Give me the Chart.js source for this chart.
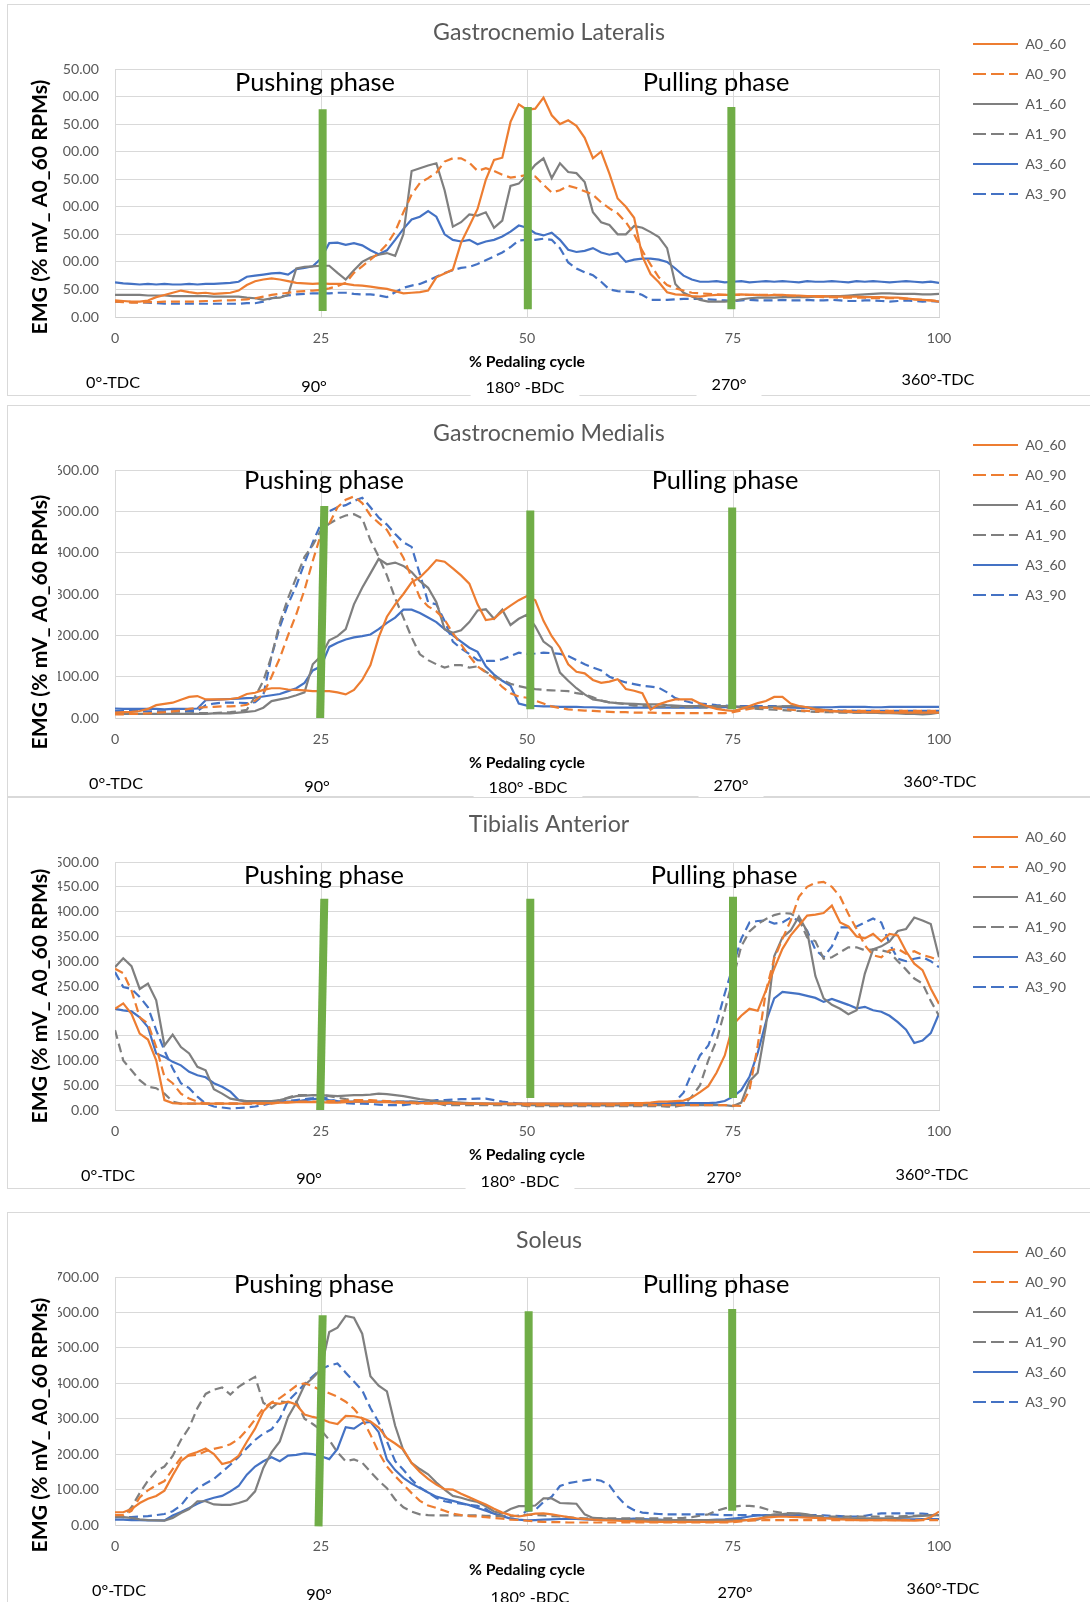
<!DOCTYPE html>
<html><head><meta charset="utf-8">
<script src="https://cdn.jsdelivr.net/npm/chart.js@4.4.1/dist/chart.umd.min.js"></script>
<style>
html,body{margin:0;padding:0;background:#fff;overflow:hidden;width:1090px;height:1602px;}
#wrap{position:relative;width:1090px;height:1602px;overflow:hidden;background:#fff;}
canvas{position:absolute;left:0;}
</style></head><body><div id="wrap">
<canvas id="c0"></canvas><canvas id="c1"></canvas><canvas id="c2"></canvas><canvas id="c3"></canvas>
</div>
<script>
// ---------------- DATA ----------------
const pct = [0,1,2,3,4,5,6,7,8,9,10,11,12,13,14,15,16,17,18,19,20,21,22,23,24,25,26,27,28,29,30,31,32,33,34,35,36,37,38,39,40,41,42,43,44,45,46,47,48,49,50,51,52,53,54,55,56,57,58,59,60,61,62,63,64,65,66,67,68,69,70,71,72,73,74,75,76,77,78,79,80,81,82,83,84,85,86,87,88,89,90,91,92,93,94,95,96,97,98,99,100];
const seriesLabels = ['A0_60','A0_90','A1_60','A1_90','A3_60','A3_90'];
const panelTitles = ['Gastrocnemio Lateralis','Gastrocnemio Medialis','Tibialis Anterior','Soleus'];
const xTicks = [0,25,50,75,100];
const glTicks = [0,50,100,150,200,250,300,350,400,450];
const gmTicks = [0,100,200,300,400,500,600];
const taTicks = [0,50,100,150,200,250,300,350,400,450,500];
const soTicks = [0,100,200,300,400,500,600,700];
const phaseTexts = ['Pushing phase','Pulling phase'];
const angleTexts = ['0°-TDC','90°','180° -BDC','270°','360°-TDC'];
const xTitle = '% Pedaling cycle';
const yTitle = 'EMG (% mV_ A0_60 RPMs)';

// Gastrocnemio Lateralis
const gl_A0_60 = [30,29,28,28,30,36,40,44,48,45, 43,44,42,43,44,48,58,65,68,70, 68,65,62,61,60,61,60,60,60,58, 57,55,53,51,47,43,44,45,48,72, 79,86,135,165,196,249,285,289,354,386, 376,378,398,366,350,357,347,325,288,300, 260,215,200,180,110,78,63,45,41,40, 38,37,39,40,40,40,41,40,40,39, 40,40,39,39,38,38,38,37,37,37, 37,36,36,36,35,35,34,32,31,30, 28];
const gl_A0_90 = [28,27,26,26,27,27,28,28,28,28, 28,29,29,30,30,31,32,34,37,40, 42,44,46,47,48,49,52,56,62,80, 92,104,116,132,155,190,222,243,252,262, 282,288,288,280,265,270,265,258,253,255, 258,255,240,226,230,238,234,228,222,208, 197,188,172,150,120,95,72,58,52,48, 44,43,42,41,40,40,40,40,40,40, 40,39,39,38,38,37,36,36,35,35, 35,35,34,34,34,34,33,32,31,30, 29];
const gl_A1_60 = [40,40,40,40,39,39,39,38,38,38, 38,38,37,37,37,37,35,34,31,34, 35,40,88,91,92,93,93,80,68,85, 100,108,113,116,111,150,265,270,275,279, 230,164,172,186,184,190,162,175,238,242, 258,276,288,252,279,263,261,245,190,172, 167,150,150,165,162,154,145,125,60,44, 37,31,28,28,28,29,32,34,35,35, 35,36,36,36,36,37,37,38,38,39, 40,41,42,43,43,42,42,42,41,41, 42];
const gl_A1_90 = [];
const gl_A3_60 = [63,61,60,59,60,59,60,59,59,60, 59,60,60,61,62,64,73,75,77,79, 80,77,87,89,92,106,134,135,131,134, 130,121,114,121,140,160,177,182,192,182, 150,140,137,140,132,137,140,146,155,166, 162,152,148,153,140,122,118,120,125,117, 113,116,100,104,106,106,104,100,88,75, 68,64,64,65,63,64,65,63,64,65, 64,65,64,63,65,64,64,65,64,63, 65,64,65,64,63,64,65,64,63,64, 62];
const gl_A3_90 = [28,28,27,27,26,25,24,24,24,24, 24,24,24,24,24,24,25,25,28,34, 37,39,41,42,43,43,43,44,44,42, 41,41,39,36,45,53,57,60,66,73, 80,85,89,91,96,103,110,117,127,139, 140,140,142,140,125,99,88,81,76,64, 50,47,46,45,40,31,31,31,32,33, 33,33,32,31,30,29,30,31,30,30, 30,31,30,30,31,30,30,31,30,29, 29,30,30,29,28,29,30,29,28,29, 28];

// Gastrocnemio Medialis
const gm_A0_60 = [13,14,15,17,22,31,34,37,44,51, 53,45,45,45,46,49,58,61,68,72, 72,69,68,67,65,65,65,62,57,68, 92,128,195,245,275,300,328,340,360,382, 378,362,345,325,275,237,240,258,272,285, 295,285,235,198,170,130,112,108,92,85, 88,94,70,66,60,20,33,40,45,45, 45,35,28,22,19,17,22,29,36,41, 51,51,35,29,26,21,19,17,16,15, 15,14,14,14,13,13,13,13,13,13, 13];
const gm_A0_90 = [9,9,10,10,11,13,14,16,18,22, 25,26,27,28,28,29,32,42,58,100, 145,200,251,310,380,445,470,510,528,536, 520,490,472,455,422,388,340,291,270,258, 238,205,178,150,125,110,96,75,60,52, 49,42,35,28,24,21,19,18,17,16, 15,14,14,13,13,13,12,12,12,12, 12,12,12,12,12,14,18,22,25,25, 24,22,20,18,17,16,16,16,17,17, 17,17,17,17,17,17,17,17,17,17, 17];
const gm_A1_60 = [10,10,10,10,10,10,10,10,10,10, 10,10,11,11,11,13,15,17,25,41, 45,49,55,62,130,150,188,198,215,275, 315,350,385,372,376,368,353,331,315,280, 215,206,212,232,260,263,240,262,225,240, 250,222,185,170,110,90,72,57,45,42, 38,36,35,34,33,33,33,31,30,29, 29,29,29,29,29,28,27,26,25,26, 27,28,29,28,26,23,20,17,15,14, 13,13,13,12,12,11,10,10,9,10, 13];
const gm_A1_90 = [10,10,10,10,10,11,11,11,11,11, 12,12,12,13,14,16,20,52,90,150, 230,290,340,390,418,455,470,482,490,493, 483,430,390,345,290,243,195,154,140,130, 122,128,128,122,125,112,100,92,83,77, 73,70,68,67,66,65,60,57,50,42, 38,36,33,30,29,28,27,27,26,26, 26,26,25,25,25,24,24,23,22,21, 20,19,18,17,16,15,14,14,13,13, 13,13,13,13,13,13,13,13,13,13, 13];
const gm_A3_60 = [23,22,22,22,22,22,21,22,22,22, 23,43,44,45,46,47,48,49,52,55, 58,65,72,85,115,125,172,182,190,195, 198,202,215,230,243,262,262,254,243,232, 215,200,185,170,160,125,105,90,78,35, 30,29,28,28,27,27,27,26,26,25, 25,25,25,25,25,25,25,25,25,25, 25,25,26,26,26,27,27,27,26,26, 26,26,25,25,25,26,26,26,27,27, 27,27,26,26,27,27,27,27,27,27, 27];
const gm_A3_90 = [17,17,17,17,16,16,16,16,17,17, 17,31,35,37,37,37,36,38,55,150, 220,275,320,375,425,470,500,510,515,525, 533,510,485,468,445,425,414,348,280,275, 235,185,168,155,140,138,138,142,150,158, 155,156,158,157,155,150,140,130,122,115, 100,92,86,82,78,76,73,62,48,42, 37,35,33,31,30,29,29,29,29,29, 29,28,27,25,23,21,20,19,18,18, 17,17,17,17,17,17,17,17,17,17, 17];

// Tibialis Anterior
const ta_A0_60 = [204,215,194,154,142,100,20,14,13,13, 13,13,13,13,13,13,13,14,14,14, 15,15,16,16,16,16,15,15,16,17, 17,17,16,16,15,15,15,14,14,14, 14,14,13,13,13,13,13,13,13,13, 13,13,13,13,13,13,13,13,13,13, 13,13,14,14,14,15,17,17,18,19, 25,36,48,75,110,172,190,204,200,241, 285,325,352,372,392,394,397,412,378,370, 350,346,355,340,355,352,320,295,282,245, 214];
const ta_A0_90 = [285,276,241,187,174,127,67,54,33,23, 17,13,13,13,13,13,13,13,13,13, 15,16,17,17,17,17,18,18,19,20, 20,20,19,18,17,15,14,13,13,13, 13,13,13,13,13,12,12,12,12,12, 10,10,10,10,10,10,10,10,10,10, 10,10,10,10,10,10,10,10,10,10, 10,10,10,10,10,9,8,40,130,240, 305,345,382,430,450,458,460,450,430,395, 365,332,312,308,322,325,315,320,312,308, 301];
const ta_A1_60 = [288,306,290,244,255,221,130,152,127,114, 87,80,42,33,23,20,18,18,18,18, 20,24,28,29,30,30,29,28,29,30, 30,31,33,32,30,28,25,22,20,18, 17,16,15,14,13,13,12,12,12,12, 10,10,10,10,10,10,10,10,10,10, 10,10,10,10,10,10,10,10,10,10, 10,10,10,10,10,8,15,58,75,170, 310,348,362,390,360,270,225,212,204,193, 201,275,324,330,340,361,365,388,382,375, 308];
const ta_A1_90 = [161,100,80,60,47,44,33,17,13,13, 13,13,13,13,13,13,13,13,13,14, 20,25,30,30,30,30,28,25,22,20, 17,17,17,17,17,17,17,16,15,14, 10,10,10,10,10,10,10,10,10,10, 8,8,8,8,8,8,8,8,8,8, 8,8,8,8,8,8,8,7,7,10, 27,50,100,140,200,265,330,360,375,385, 393,397,396,385,348,340,305,308,318,328, 328,322,324,322,318,300,283,265,255,220, 190];
const ta_A3_60 = [204,201,199,187,167,114,107,97,90,77, 70,66,54,47,37,20,17,17,17,17, 17,17,17,20,22,23,20,18,17,17, 17,17,17,17,17,17,17,16,15,14, 13,13,13,13,13,13,13,13,13,13, 13,13,13,13,13,13,13,13,13,13, 13,13,13,13,13,13,13,13,14,14, 14,14,14,15,18,27,40,67,115,178, 225,238,236,234,230,226,218,224,218,212, 205,208,201,198,190,177,162,135,140,155, 194];
const ta_A3_90 = [278,248,244,228,207,161,120,84,54,44, 27,13,7,5,3,4,5,7,10,14, 17,18,20,22,24,27,22,17,14,13, 13,12,11,10,10,10,12,14,17,20, 20,21,22,22,23,23,20,17,15,13, 13,12,11,10,10,10,10,10,10,10, 10,10,10,10,10,10,11,13,17,35, 75,110,130,174,235,290,345,378,381,382, 376,378,388,382,361,323,308,330,368,368, 370,378,386,378,335,305,300,305,308,300, 288];

// Soleus
const so_A0_60 = [36,36,45,62,74,82,97,140,180,198, 206,216,200,172,178,195,235,272,321,345, 342,348,340,312,305,300,290,285,308,307, 302,292,275,245,230,213,175,150,130,114, 101,100,88,78,68,58,46,35,28,24, 28,32,33,30,26,22,19,17,15,14, 13,12,11,10,10,9,9,9,9,9, 9,9,9,9,9,10,12,15,18,21, 23,24,23,22,21,20,19,18,16,15, 14,14,14,14,14,13,13,12,14,22, 38];
const so_A0_90 = [28,28,40,78,98,112,124,158,190,196, 198,208,215,220,228,243,268,298,330,346, 358,375,393,400,392,380,372,362,348,328, 300,255,205,165,138,114,90,68,55,48, 40,32,28,25,24,22,20,18,15,14, 12,10,9,8,8,7,7,7,7,7, 7,7,7,7,7,7,7,7,7,7, 7,7,7,7,7,8,10,12,13,14, 14,14,14,14,14,14,14,14,14,14, 14,14,14,14,14,14,14,14,14,14, 14];
const so_A1_60 = [24,22,20,16,14,13,12,20,34,45, 67,67,58,57,57,62,70,95,161,205, 236,305,345,395,415,440,545,557,590,585, 540,420,393,377,280,210,175,158,143,120, 100,82,77,70,65,53,38,32,45,53, 53,55,75,75,62,61,60,30,20,19, 17,16,15,14,14,14,14,14,14,14, 14,14,14,14,14,14,14,14,15,25, 30,31,33,33,30,25,20,19,19,19, 19,19,19,19,19,20,22,24,26,27, 28];
const so_A1_90 = [22,24,50,90,125,153,165,195,240,275, 330,370,382,388,368,390,405,418,345,330, 349,346,348,300,285,268,240,205,180,185, 176,150,125,104,72,50,38,30,28,27, 27,27,27,27,27,26,26,25,24,27, 29,28,27,25,24,22,20,19,19,19, 19,19,19,19,19,19,19,19,19,20, 22,26,30,40,47,52,54,54,52,45, 38,34,33,30,28,26,25,24,24,24, 24,24,24,24,24,24,25,26,27,28, 28];
const so_A3_60 = [15,15,14,14,13,13,13,27,37,48, 60,70,77,82,95,110,142,165,180,191, 180,196,198,202,200,194,186,215,276,272, 288,291,262,185,155,133,117,104,92,80, 74,68,62,56,48,40,32,25,18,15, 13,14,15,16,17,18,17,16,15,14, 15,16,17,18,17,16,15,14,14,14, 14,14,14,15,16,18,20,24,27,28, 28,28,27,26,24,22,20,19,18,17, 17,17,16,16,16,16,16,16,17,17, 17];
const so_A3_90 = [22,22,22,24,25,28,31,39,55,85, 104,117,130,150,170,192,217,240,258,270, 300,350,373,398,420,440,450,456,430,405, 380,330,290,236,180,156,128,106,92,76, 67,63,60,57,54,45,30,26,24,26, 40,42,65,80,110,118,122,126,129,125, 112,80,55,42,35,33,31,30,30,30, 30,30,30,29,28,28,28,28,28,28, 28,28,28,28,28,28,27,26,25,24, 24,26,30,33,33,33,33,33,32,30, 28];

// Green phase markers: [x at top, x at bottom, value at top, value at bottom]
const glMarks = [[25.2,25.2,377,11],[50.1,50.1,381,14],[74.8,74.8,381,14]];
const gmMarks = [[25.4,24.9,513,0],[50.4,50.4,502,21],[74.9,74.9,509,21]];
const taMarks = [[25.4,24.9,426,0],[50.4,50.4,426,24],[75.0,75.0,430,24]];
const soMarks = [[25.2,24.7,592,-4],[50.2,50.2,603,38],[74.9,74.9,610,40]];

// ---------------- STYLE / LAYOUT ----------------
const FONT = 'Lato, "Open Sans", "DejaVu Sans", sans-serif';
const seriesStyle = [
  {color:'#ED7D31', dash:[]}, {color:'#ED7D31', dash:[9,5]},
  {color:'#7F7F7F', dash:[]}, {color:'#7F7F7F', dash:[9,5]},
  {color:'#4472C4', dash:[]}, {color:'#4472C4', dash:[9,5]}
];
const panelLayout = [
  {top:4,    titleY:29, phaseY:79, phaseX:[315,716], yTitleY:203, clipX:63,
   angles:[[113,379,1],[314,383,0],[525,384,1],[729,381,1],[938,376,1]]},
  {top:405,  titleY:29, phaseY:76, phaseX:[324,725], yTitleY:217, clipX:58,
   angles:[[116,379,1],[317,382,0],[528,383,1],[731,381,1],[940,377,1]]},
  {top:797,  titleY:28, phaseY:79, phaseX:[324,724], yTitleY:199, clipX:58,
   angles:[[108,379,1],[309,382,0],[520,385,1],[724,381,0],[932,378,1]]},
  {top:1212, titleY:29, phaseY:73, phaseX:[314,716], yTitleY:213, clipX:58,
   angles:[[119,379,1],[319,383,0],[530,386,1],[735,381,1],[943,377,1]]}
];
const CANVAS_H = 392;

const mctx = document.createElement('canvas').getContext('2d');
function fit(text, target, weight) {
  mctx.font = (weight || 'normal') + ' 100px ' + FONT;
  return 100 * target / mctx.measureText(text).width;
}
const titleSize = fit('Gastrocnemio Lateralis', 232);
const phaseSize = fit('Pushing phase', 160);
const tickSize = fit('0.00', 28);
const legendSize = fit('A0_60', 41);
const xTitleSize = fit('% Pedaling cycle', 116, 'bold');
const yTitleSize = fit('EMG (% mV_ A0_60 RPMs)', 255, 'bold');
const angleSize = fit('0°-TDC', 54);
const legendPad = 30 - legendSize;

Chart.defaults.font.family = FONT;
Chart.defaults.color = '#595959';

const panelSeries = [
  [gl_A0_60, gl_A0_90, gl_A1_60, gl_A1_90, gl_A3_60, gl_A3_90],
  [gm_A0_60, gm_A0_90, gm_A1_60, gm_A1_90, gm_A3_60, gm_A3_90],
  [ta_A0_60, ta_A0_90, ta_A1_60, ta_A1_90, ta_A3_60, ta_A3_90],
  [so_A0_60, so_A0_90, so_A1_60, so_A1_90, so_A3_60, so_A3_90]
];
const panelTicks = [glTicks, gmTicks, taTicks, soTicks];
const panelMarks = [glMarks, gmMarks, taMarks, soMarks];

function decorPlugin(p) {
  const L = panelLayout[p];
  return {
    id: 'decor' + p,
    beforeDraw(chart) {
      const ctx = chart.ctx;
      ctx.save();
      ctx.fillStyle = '#fff';
      ctx.fillRect(0, 0, chart.width, chart.height);
      ctx.strokeStyle = '#D9D9D9'; ctx.lineWidth = 1;
      ctx.strokeRect(7.5, 0.5, 1200, CANVAS_H - 1);
      ctx.restore();
    },
    afterLayout(chart) {
      const lg = chart.legend;
      if (!lg) return;
      lg.left = 973 - legendPad; lg.right = 1090;
      lg.top = 40 - legendSize / 2 - legendPad; lg.bottom = CANVAS_H;
      lg.width = lg.right - lg.left; lg.height = lg.bottom - lg.top;
    },
    afterDraw(chart) {
      const ctx = chart.ctx, xs = chart.scales.x, ys = chart.scales.y, area = chart.chartArea;
      ctx.save();
      // green phase markers
      ctx.strokeStyle = '#70AD47'; ctx.lineWidth = 8; ctx.lineCap = 'butt'; ctx.setLineDash([]);
      panelMarks[p].forEach(m => {
        ctx.beginPath();
        ctx.moveTo(xs.getPixelForValue(m[0]), ys.getPixelForValue(m[2]));
        ctx.lineTo(xs.getPixelForValue(m[1]), ys.getPixelForValue(m[3]));
        ctx.stroke();
      });
      // axis title box (covers part of the tick labels like the original)
      ctx.fillStyle = '#fff';
      ctx.fillRect(9, area.top - 14, L.clipX - 9, area.bottom - area.top + 26);
      ctx.save();
      ctx.translate(40, L.yTitleY); ctx.rotate(-Math.PI / 2);
      ctx.font = 'bold ' + yTitleSize + 'px ' + FONT;
      ctx.fillStyle = '#000'; ctx.textAlign = 'center'; ctx.textBaseline = 'middle';
      ctx.fillText(yTitle, 0, 0);
      ctx.restore();
      // chart title
      ctx.font = titleSize + 'px ' + FONT;
      ctx.fillStyle = '#595959'; ctx.textAlign = 'center'; ctx.textBaseline = 'middle';
      ctx.fillText(panelTitles[p], 549, L.titleY);
      // phase labels
      ctx.font = phaseSize + 'px ' + FONT; ctx.fillStyle = '#000';
      phaseTexts.forEach((t, i) => ctx.fillText(t, L.phaseX[i], L.phaseY));
      // crank angle labels
      ctx.font = angleSize + 'px ' + FONT;
      angleTexts.forEach((t, i) => {
        const a = L.angles[i];
        const w = ctx.measureText(t).width;
        if (a[2]) { ctx.fillStyle = '#fff'; ctx.fillRect(a[0] - w / 2 - 15, a[1] - 12, w + 30, 24); }
        ctx.fillStyle = '#000';
        ctx.fillText(t, a[0], a[1]);
      });
      ctx.restore();
    }
  };
}

panelLayout.forEach((L, p) => {
  const cv = document.getElementById('c' + p);
  cv.width = 1090; cv.height = CANVAS_H;
  cv.style.width = '1090px'; cv.style.height = CANVAS_H + 'px'; cv.style.top = L.top + 'px';
  const ticks = panelTicks[p];
  const datasets = panelSeries[p].map((arr, i) => ({
    label: seriesLabels[i],
    data: arr.map((v, k) => ({x: pct[k], y: v})),
    borderColor: seriesStyle[i].color,
    backgroundColor: seriesStyle[i].color,
    borderDash: seriesStyle[i].dash,
    borderWidth: 2.2,
    pointRadius: 0,
    tension: 0,
    fill: false
  }));
  new Chart(cv, {
    type: 'line',
    data: {datasets},
    plugins: [decorPlugin(p)],
    options: {
      responsive: false, animation: false, devicePixelRatio: 1,
      events: [],
      layout: {padding: {left: 0, top: 65, right: 151, bottom: 0}},
      plugins: {
        title: {display: false},
        tooltip: {enabled: false},
        legend: {
          display: true, position: 'chartArea', align: 'start',
          labels: {
            usePointStyle: true, pointStyle: 'line', pointStyleWidth: 45,
            padding: legendPad, color: '#595959', font: {size: legendSize},
            generateLabels: (chart) => chart.data.datasets.map((ds, i) => ({
              text: ds.label, fillStyle: ds.borderColor, strokeStyle: ds.borderColor,
              fontColor: '#595959', lineWidth: 2.2,
              lineDash: ds.borderDash.length ? [13, 5] : [],
              pointStyle: 'line', hidden: false, datasetIndex: i
            }))
          }
        }
      },
      scales: {
        x: {
          type: 'linear', min: 0, max: 100,
          afterBuildTicks: s => { s.ticks = xTicks.map(v => ({value: v})); },
          afterFit: s => { s.height = CANVAS_H - 313; },
          ticks: {color: '#595959', font: {size: tickSize}, padding: 21 - 0.6 * tickSize, maxRotation: 0, autoSkip: false},
          grid: {color: '#D9D9D9', drawTicks: false},
          border: {color: '#D0D0D0'},
          title: {display: true, text: xTitle, color: '#000',
                  font: {size: xTitleSize, weight: 'bold'},
                  padding: {top: 0, bottom: 34 - 0.6 * xTitleSize}}
        },
        y: {
          min: 0, max: ticks[ticks.length - 1],
          afterBuildTicks: s => { s.ticks = ticks.map(v => ({value: v})); },
          afterFit: s => { s.width = 115; },
          ticks: {color: '#595959', font: {size: tickSize}, padding: 16, autoSkip: false,
                  callback: v => Number(v).toFixed(2)},
          grid: {color: '#D9D9D9', drawTicks: false},
          border: {color: '#D9D9D9'}
        }
      }
    }
  });
});
</script></body></html>
